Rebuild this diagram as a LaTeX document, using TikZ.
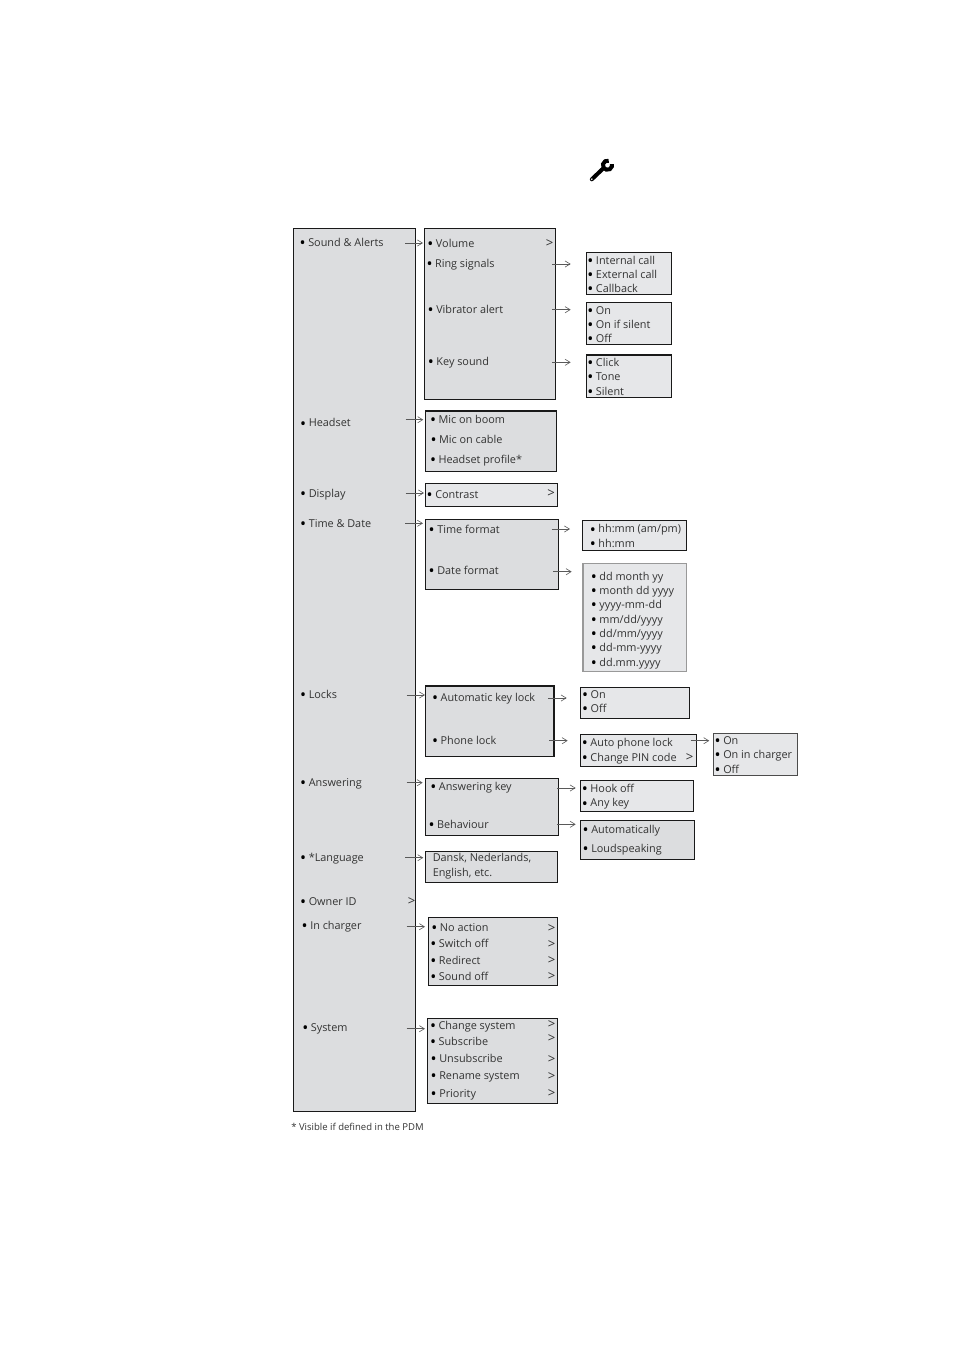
\documentclass[tikz,border=0pt]{standalone}
\usepackage{fontspec}
\setmainfont{Open Sans}
\usetikzlibrary{arrows.meta}
\definecolor{boxfill}{HTML}{DCDDDF}
\definecolor{lightfill}{HTML}{E6E7E9}
\definecolor{ink}{HTML}{333333}
\tikzset{
  menubox/.style={draw=black!90,line width=0.8pt,fill=boxfill},
  lightbox/.style={menubox,fill=lightfill},
  softbox/.style={draw=black!40,line width=0.8pt,fill=lightfill},
  midbox/.style={draw=black!70,line width=0.8pt,fill=lightfill},
  itemtext/.style={anchor=base west,inner sep=0pt,text=ink,font=\fontsize{8.15}{10}\selectfont},
  marktext/.style={itemtext,font=\fontsize{9.8}{10}\selectfont},
  notetext/.style={itemtext,font=\fontsize{7.15}{9}\selectfont},
  conn/.style={draw=black!65,line width=0.45pt,-{Straight Barb[length=3.8pt,width=4.6pt,line width=0.45pt]}}
}
% box: name, x1, y1, x2, y2, style
\newcommand{\bx}[6]{\node[#6,anchor=north west,inner sep=0pt,outer sep=0pt,minimum width={(#4-#2)*0.75pt},minimum height={(#5-#3)*0.75pt}] (#1) at (#2,#3) {};}
% bulleted item: name, text x, baseline, text
\newcommand{\itm}[4]{\node[itemtext] (#1) at (#2,#3) {\llap{\raisebox{-1.9pt}{\fontsize{12}{12}\selectfont\textcolor{black}{\textbullet}}\hspace{1.9pt}}#4};}
% plain text: name, x, baseline, text
\newcommand{\txt}[4]{\node[itemtext] (#1) at (#2,#3) {#4};}
% submenu mark: name, x, baseline
\newcommand{\mrk}[3]{\node[marktext] (#1) at (#2-0.5,#3) {>};}
% connector: name, x1, x2, y
\newcommand{\arr}[4]{\coordinate (#1s) at (#2,#4);\coordinate (#1e) at (#3,#4);\draw[conn] (#1s) -- (#1e);}
\begin{document}
\begin{tikzpicture}[x=0.75pt,y=-0.75pt]
\useasboundingbox (0,0) rectangle (954,1350);
% wrench
\draw[black,line width=3pt,line cap=round] (591.8,179.3) -- (603,168.6);
\fill[white] (591.8,179.2) circle (0.9);
\draw[black,line width=3pt] (607.5,165.2) ++(-75:4.6) arc[start angle=-75,end angle=-375,radius=4.6];
% boxes
\bx{main}{293.3}{228.3}{415.4}{1111.7}{menubox}
\bx{sound}{424.3}{228.3}{555.7}{399.3}{menubox}
\bx{ring}{586.3}{252.3}{671.7}{294.7}{lightbox}
\bx{vib}{586.3}{302.3}{671.7}{344.3}{lightbox}
\bx{key}{586.3}{355}{671.7}{397.7}{lightbox}
\bx{head}{425.3}{411}{556.7}{471.7}{menubox}
\bx{disp}{425.3}{483.3}{557.7}{506.3}{lightbox}
\bx{time}{425.3}{519.3}{558.7}{589.3}{menubox}
\bx{tfmt}{582.3}{520.3}{686.7}{550.7}{lightbox}
\bx{dfmt}{583}{563.3}{686.7}{671.3}{softbox}
\bx{lock}{425.3}{686}{554}{756.7}{menubox}
\bx{auto}{580.3}{687.3}{689.3}{718.7}{lightbox}
\bx{phone}{580.3}{734.3}{696.7}{766.7}{lightbox}
\bx{apl}{713.3}{733.3}{797.7}{775.7}{midbox}
\bx{ans}{425.3}{778.3}{558.7}{835.3}{menubox}
\bx{hook}{580.3}{780.3}{693.7}{811.7}{lightbox}
\bx{behav}{580.3}{820.3}{694.7}{859.7}{menubox}
\bx{lang}{425.3}{851.3}{557.7}{882.7}{menubox}
\bx{charger}{428.3}{917.3}{557.7}{985.3}{menubox}
\bx{system}{427.3}{1018.3}{557.7}{1103.7}{menubox}
% main menu
\itm{m1}{308}{246}{Sound \& Alerts}
\itm{m2}{308.5}{426.5}{Headset}
\itm{m3}{308.5}{497.3}{Display}
\itm{m4}{308.5}{527}{Time \& Date}
\itm{m5}{308.5}{698}{Locks}
\itm{m6}{308.5}{786}{Answering}
\itm{m7}{308.5}{861}{*Language}
\itm{m8}{308.5}{905}{Owner ID}
\mrk{m8a}{408}{905}
\itm{m9}{310}{929}{In charger}
\itm{m10}{310.6}{1031}{System}
% sound & alerts
\itm{s1}{435.7}{247.3}{Volume}
\mrk{s1a}{546}{247.3}
\itm{s2}{434.8}{267.3}{Ring signals}
\itm{s3}{436}{313.3}{Vibrator alert}
\itm{s4}{436.2}{365}{Key sound}
\itm{r1}{595.7}{264}{Internal call}
\itm{r2}{595.7}{278.3}{External call}
\itm{r3}{595.7}{292}{Callback}
\itm{v1}{595.7}{314}{On}
\itm{v2}{595.7}{328}{On if silent}
\itm{v3}{595.7}{342}{Off}
\itm{k1}{595.7}{366}{Click}
\itm{k2}{595.7}{380}{Tone}
\itm{k3}{595.7}{395}{Silent}
% headset
\itm{h1}{438.3}{423}{Mic on boom}
\itm{h2}{438.8}{443}{Mic on cable}
\itm{h3}{438.3}{463}{Headset profile*}
% display
\itm{d1}{435}{498}{Contrast}
\mrk{d1a}{547.5}{497.5}
% time & date
\itm{t1}{437}{533}{Time format}
\itm{t2}{437}{574.4}{Date format}
\itm{f1}{598.2}{532.5}{hh:mm (am/pm)}
\itm{f2}{598.2}{547}{hh:mm}
\itm{g1}{599.2}{580.4}{dd month yy}
\itm{g2}{599.2}{594.4}{month dd yyyy}
\itm{g3}{599.2}{608}{yyyy-mm-dd}
\itm{g4}{599.2}{623}{mm/dd/yyyy}
\itm{g5}{599.2}{637.3}{dd/mm/yyyy}
\itm{g6}{599.2}{651.4}{dd-mm-yyyy}
\itm{g7}{599.2}{666.4}{dd.mm.yyyy}
% locks
\itm{l1}{440.4}{701.4}{Automatic key lock}
\itm{l2}{440.4}{744.4}{Phone lock}
\itm{a1}{590.3}{698}{On}
\itm{a2}{590.3}{712}{Off}
\itm{p1}{590.2}{746.4}{Auto phone lock}
\itm{p2}{590.2}{761.4}{Change PIN code}
\mrk{p2a}{686}{761}
\itm{q1}{723}{744.4}{On}
\itm{q2}{723}{758.4}{On in charger}
\itm{q3}{723}{773}{Off}
% answering
\itm{n1}{438.6}{790.4}{Answering key}
\itm{n2}{436.8}{828.4}{Behaviour}
\itm{o1}{590.2}{792}{Hook off}
\itm{o2}{590.2}{806.7}{Any key}
\itm{b1}{591}{833}{Automatically}
\itm{b2}{591}{852}{Loudspeaking}
% language
\txt{la1}{432.5}{861.8}{Dansk, Nederlands,}
\txt{la2}{432.5}{876.3}{English, etc.}
% in charger
\itm{c1}{439.7}{931}{No action}
\itm{c2}{438.7}{947}{Switch off}
\itm{c3}{438.7}{964}{Redirect}
\itm{c4}{438.7}{980}{Sound off}
\mrk{c1a}{548}{932}
\mrk{c2a}{548}{948.5}
\mrk{c3a}{548}{964.5}
\mrk{c4a}{548}{980.5}
% system
\itm{y1}{438.3}{1029.3}{Change system}
\itm{y2}{438.3}{1045.3}{Subscribe}
\itm{y3}{439}{1062.3}{Unsubscribe}
\itm{y4}{439}{1079.3}{Rename system}
\itm{y5}{439}{1097}{Priority}
\mrk{y1a}{548}{1028.5}
\mrk{y2a}{548}{1042.5}
\mrk{y3a}{548}{1063.5}
\mrk{y4a}{548}{1080.5}
\mrk{y5a}{548}{1097.5}
\node[notetext] (fn) at (291,1130) {* Visible if defined in the PDM};
% connectors
\arr{a01}{405}{423}{243}
\arr{a02}{552.3}{570.7}{264}
\arr{a03}{552.3}{570.7}{309.7}
\arr{a04}{552.3}{570.7}{362.3}
\arr{a05}{405.7}{423.3}{419.7}
\arr{a06}{405.7}{424}{493}
\arr{a07}{405}{423}{523.3}
\arr{a08}{551.7}{570}{529}
\arr{a09}{553.3}{571.7}{571.7}
\arr{a10}{406.7}{425}{695}
\arr{a11}{548.3}{566.7}{698}
\arr{a12}{549.3}{567.7}{740.7}
\arr{a13}{690.7}{709.3}{740.7}
\arr{a14}{406.7}{422.7}{782.7}
\arr{a15}{557.3}{575.7}{788}
\arr{a16}{557.3}{575.7}{824.3}
\arr{a17}{405}{423.3}{857.7}
\arr{a18}{406.7}{425}{926.7}
\arr{a19}{406.7}{425}{1028.7}
\end{tikzpicture}
\end{document}
